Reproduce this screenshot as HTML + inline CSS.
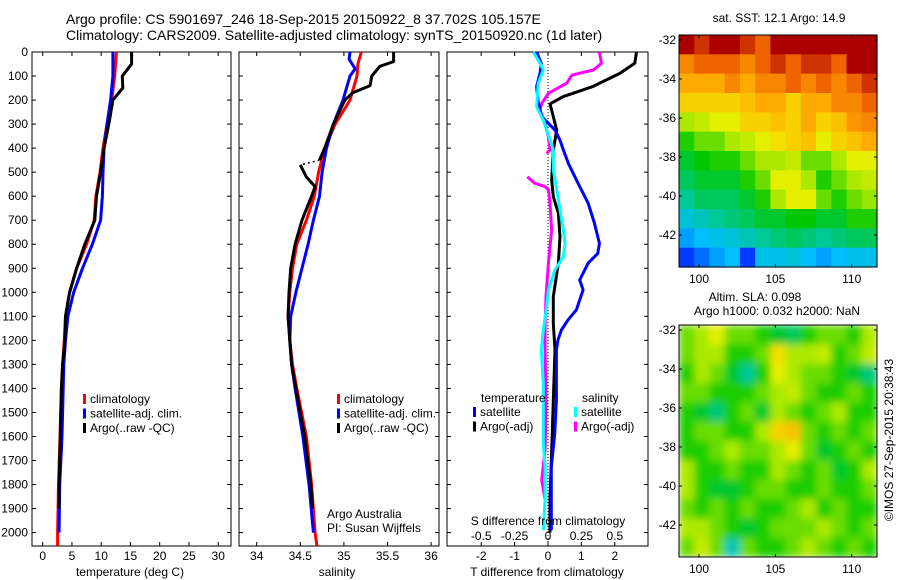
<!DOCTYPE html>
<html><head><meta charset="utf-8"><style>
body{margin:0;background:#fff}
svg{display:block;font-family:"Liberation Sans",sans-serif}
text{font-size:12px;fill:#000}
</style></head><body>
<svg id="s" width="900" height="580" xmlns="http://www.w3.org/2000/svg">
<text x="66" y="24" style="font-size:14px">Argo profile: CS 5901697_246 18-Sep-2015 20150922_8 37.702S 105.157E</text>
<text x="66" y="40" style="font-size:14px">Climatology: CARS2009. Satellite-adjusted climatology: synTS_20150920.nc (1d later)</text>
<g id="g"></g>
</svg>
<script>
// ---- data ----
const tClimDepth=[0,100,200,300,400,500,600,700,800,900,1000,1100,1200,1300,1400,1600,1800,2000,2055];
const tClim=[12.6,12.3,11.8,11.0,10.3,9.8,9.1,8.8,7.5,5.8,4.6,3.9,3.7,3.4,3.2,2.96,2.7,2.55,2.55];
const tSatDepth=[0,100,200,300,400,500,600,700,800,900,1000,1100,1200,1300,1400,1600,1800,2000];
const tSat=[12.0,12.0,11.6,11.0,10.5,10.3,10.2,9.9,8.5,6.8,5.3,4.3,3.9,3.6,3.5,3.3,2.9,2.8];
const tArgoDepth=[0,50,100,150,200,300,400,500,600,700,800,900,1000,1100,1200,1300,1400,1600,1800,1900];
const tArgo=[15.2,15.2,13.6,13.7,12.0,11.3,10.5,9.9,9.2,8.9,7.2,5.8,4.6,3.9,3.8,3.4,3.2,3.0,2.8,2.8];
const sClimDepth=[0,50,100,200,300,400,500,600,700,800,900,1000,1100,1200,1300,1400,1600,1800,2000,2055];
const sClim=[35.2,35.16,35.15,35.07,34.9,34.78,34.71,34.66,34.57,34.46,34.41,34.38,34.36,34.38,34.41,34.46,34.57,34.63,34.67,34.69];
const sSatDepth=[0,30,70,100,200,300,400,500,600,700,800,900,1000,1100,1200,1300,1400,1600,1800,2000];
const sSat=[35.07,35.06,35.13,35.07,34.99,34.88,34.8,34.75,34.72,34.65,34.59,34.52,34.45,34.39,34.38,34.4,34.44,34.53,34.6,34.65];
const sArgoDepth=[0,40,60,100,140,170,200,300,400,450];
const sArgo=[35.57,35.57,35.41,35.32,35.30,35.1,35.01,34.88,34.78,34.72];
const sArgoQcDepth=[450,470];
const sArgoQc=[34.72,34.5];
const sArgo2Depth=[470,520,560,600,700,800,900,1000,1100,1200,1300,1400,1600,1800,1900];
const sArgo2=[34.5,34.57,34.67,34.63,34.52,34.44,34.39,34.37,34.36,34.38,34.4,34.45,34.55,34.62,34.64];
const dTArgoDepth=[0,47,89,143,186,216,269,325,408,533,602,671,768,879,1018,1129,1240,1450,1656,1863,2000];
const dTArgo=[2.65,2.6,2.15,1.35,0.45,0.06,0.16,0.26,0.16,0.11,0.16,0.31,0.36,0.31,0.16,0.16,0.21,0.16,0.11,0.06,0.06];
const dTSatDepth=[0,47,89,143,212,269,325,367,408,464,547,629,712,796,838,879,949,990,1073,1115,1157,1198,1240,1450,1590,1726,1990];
const dTSat=[-0.34,-0.2,-0.24,-0.34,-0.29,-0.19,0.21,0.36,0.46,0.61,0.9,1.2,1.39,1.54,1.49,1.2,0.95,1.05,0.85,0.6,0.4,0.3,0.25,0.25,0.2,0.1,0.1];
const dSSatDepth=[0,47,75,130,228,283,366,408,491,574,657,741,796,852,907,990,1060,1157,1240,1379,1518,1628,1726,1864,1989];
const dSSat=[-0.11,-0.06,-0.035,-0.073,-0.085,-0.035,0.015,0.04,0.04,0.065,0.09,0.115,0.127,0.115,0.052,0.003,-0.01,-0.035,-0.05,-0.035,-0.035,-0.035,-0.022,-0.022,-0.035];
const dSArgoDepth=[0,47,75,96,130,172,214,241,297,352,408,422];
const dSArgo=[0.385,0.40,0.34,0.18,0.14,0.003,-0.047,-0.06,-0.022,0.003,0.015,-0.01];
const dSArgo2Depth=[519,546,560,574,630,741,879,1018,1143,1240,1450,1656,1781,1864];
const dSArgo2=[-0.155,-0.10,-0.022,0.003,0.015,0.027,0.003,-0.015,-0.022,-0.022,-0.015,-0.022,-0.047,-0.022];
const depthTicks=[0,100,200,300,400,500,600,700,800,900,1000,1100,1200,1300,1400,1500,1600,1700,1800,1900,2000];
const tTicks=[0,5,10,15,20,25,30];
const sTicks=[34,34.5,35,35.5,36];
const dTTicks=[-2,-1,0,1,2];
const dSTicks=[-0.5,-0.25,0,0.25,0.5];
const dSTickLabels=["-0.5","-0.25","0","0.25","0.5"];
const latTicks=[-32,-34,-36,-38,-40,-42];
const lonTicks=[100,105,110];
const sstGrid=[
[.95,.9,.95,.95,.9,.85,.95,.95,.95,.95,.95,.95,.95],
[.8,.85,.85,.85,.8,.85,.9,.85,.9,.9,.85,.95,.95],
[.75,.75,.75,.8,.75,.8,.8,.85,.8,.85,.8,.85,.9],
[.7,.7,.7,.7,.72,.75,.75,.7,.75,.75,.8,.8,.85],
[.6,.62,.65,.65,.7,.7,.72,.7,.75,.7,.72,.78,.8],
[.5,.55,.55,.6,.62,.65,.68,.7,.72,.65,.7,.72,.75],
[.45,.48,.5,.5,.55,.6,.6,.62,.55,.55,.6,.65,.65],
[.42,.45,.45,.45,.5,.55,.65,.65,.6,.5,.55,.6,.62],
[.38,.42,.42,.42,.45,.5,.6,.65,.65,.55,.5,.55,.58],
[.32,.35,.38,.4,.42,.45,.45,.48,.48,.45,.45,.5,.5],
[.25,.28,.3,.32,.35,.38,.4,.42,.4,.38,.4,.42,.42],
[.15,.2,.25,.28,.15,.3,.3,.32,.28,.25,.28,.3,.3]];
const slaGrid=[
[.55,.6,.65,.55,.55,.5,.45,.42,.5,.55,.55,.5,.6],
[.55,.6,.6,.5,.5,.55,.68,.6,.6,.62,.5,.55,.62],
[.5,.6,.55,.45,.38,.5,.65,.6,.55,.55,.5,.45,.4],
[.55,.55,.5,.5,.5,.55,.6,.62,.55,.5,.5,.55,.5],
[.5,.45,.4,.5,.55,.45,.6,.55,.5,.55,.6,.5,.5],
[.5,.55,.55,.5,.5,.6,.7,.72,.55,.5,.55,.5,.55],
[.5,.5,.55,.6,.55,.55,.6,.65,.55,.45,.5,.55,.5],
[.6,.5,.5,.55,.5,.5,.6,.55,.5,.55,.45,.5,.6],
[.6,.5,.45,.45,.5,.55,.55,.5,.5,.55,.5,.5,.55],
[.55,.5,.55,.5,.55,.5,.5,.55,.6,.5,.55,.5,.5],
[.6,.6,.55,.5,.45,.5,.55,.55,.55,.6,.55,.5,.55],
[.55,.62,.55,.35,.55,.5,.5,.55,.6,.55,.5,.55,.5]];
// ---- axes ----
const NS="http://www.w3.org/2000/svg";
const G=document.getElementById('g');
function mk(tag,attrs,parent){const e=document.createElementNS(NS,tag);for(const k in attrs)e.setAttribute(k,attrs[k]);(parent||G).appendChild(e);return e;}
const yD=d=>52+d*0.2403;
const xT=v=>42.7+v*5.85;
const xS=v=>256.7+(v-34)*87.2;
const xDT=v=>548+v*33.4;
const xDS=v=>548+v*133.6;
const PB=546;
function frame(x0,x1,name){
  const r=mk('rect',{x:x0,y:52,width:x1-x0,height:PB-52,fill:'none',stroke:'#000','stroke-width':1});
  
  
  depthTicks.forEach(d=>{mk('line',{x1:x0,x2:x0+4,y1:yD(d),y2:yD(d),stroke:'#000'});mk('line',{x1:x1,x2:x1-4,y1:yD(d),y2:yD(d),stroke:'#000'});});
}
frame(32,231,'temperature-panel');frame(239,439,'salinity-panel');frame(447,648,'difference-panel');
depthTicks.forEach(d=>{const t=mk('text',{x:28,y:yD(d)+4,'text-anchor':'end'});t.textContent=d;

});
function xticks(vals,fx,labels,y,top){vals.forEach((v,i)=>{const x=fx(v);
 mk('line',{x1:x,x2:x,y1:PB,y2:PB-4,stroke:'#000'});if(top)mk('line',{x1:x,x2:x,y1:52,y2:56,stroke:'#000'});
 const t=mk('text',{x:x,y:y,'text-anchor':'middle'});t.textContent=labels?labels[i]:v;
 
 });}
xticks(tTicks,xT,null,560,true);xticks(sTicks,xS,null,560,true);xticks(dTTicks,xDT,null,560,true);
dSTicks.forEach((v,i)=>{const t=mk('text',{x:xDS(v),y:540,'text-anchor':'middle'});t.textContent=dSTickLabels[i];

});
mk('line',{x1:548,x2:548,y1:52,y2:PB,stroke:'#000','stroke-dasharray':'1,2'});
function line(xs,ds,fx,col,name,dash){const p=xs.map((v,i)=>fx(v).toFixed(1)+','+yD(ds[i]).toFixed(1)).join(' ');
 const e=mk('polyline',{points:p,fill:'none',stroke:col,'stroke-width':dash?1.5:3,'stroke-linejoin':'round'});if(dash)e.setAttribute('stroke-dasharray','2,3');
 
 }
line(tClim,tClimDepth,xT,'#f00','temp-climatology-line');line(tSat,tSatDepth,xT,'#00f','temp-satellite-line');line(tArgo,tArgoDepth,xT,'#000','temp-argo-line');
line(sClim,sClimDepth,xS,'#f00','sal-climatology-line');line(sSat,sSatDepth,xS,'#00f','sal-satellite-line');line(sArgo,sArgoDepth,xS,'#000','sal-argo-line');
line(sArgoQc,sArgoQcDepth,xS,'#000','sal-argo-qc-line',true);line(sArgo2,sArgo2Depth,xS,'#000','sal-argo-line-deep');
line(dSArgo,dSArgoDepth,xDS,'#f0f','sal-diff-argo-line');line(dSArgo2,dSArgo2Depth,xDS,'#f0f','sal-diff-argo-line-deep');
line(dTArgo,dTArgoDepth,xDT,'#000','temp-diff-argo-line');line(dTSat,dTSatDepth,xDT,'#00f','temp-diff-satellite-line');
line(dSSat,dSSatDepth,xDS,'#0ff','sal-diff-satellite-line');
function txt(x,y,s,name,extra){const t=mk('text',Object.assign({x:x,y:y},extra||{}));t.textContent=s;
 
 return t;}
function legend(x,y,items){items.forEach((it,i)=>{mk('rect',{x:x,y:y+i*14.5-9,width:3,height:10,fill:it[0]});txt(x+7,y+i*14.5,it[1],'legend-entry');});}
legend(83,403,[['#f00','climatology'],['#00f','satellite-adj. clim.'],['#000','Argo(..raw -QC)']]);
legend(337,403,[['#f00','climatology'],['#00f','satellite-adj. clim.'],['#000','Argo(..raw -QC)']]);
txt(481,402,'temperature','legend-title-temperature');txt(582,402,'salinity','legend-title-salinity');
legend(473,416,[['#00f','satellite'],['#000','Argo(-adj)']]);legend(574,416,[['#0ff','satellite'],['#f0f','Argo(-adj)']]);
txt(327,518,'Argo Australia','credit-line-1');txt(327,532,'PI: Susan Wijffels','credit-line-2');
txt(548,525,'S difference from climatology','s-diff-axis-title',{'text-anchor':'middle'});
txt(130,576,'temperature (deg C)','temperature-axis-title',{'text-anchor':'middle'});
txt(337,576,'salinity','salinity-axis-title',{'text-anchor':'middle'});
txt(547,576,'T difference from climatology','t-diff-axis-title',{'text-anchor':'middle'});
// ---- maps ----
const cmapStops=[[0,[0,0,130]],[0.15,[0,60,255]],[0.28,[0,190,255]],[0.38,[0,200,150]],[0.48,[0,200,0]],[0.58,[150,230,0]],[0.66,[240,240,0]],[0.75,[255,170,0]],[0.85,[240,100,0]],[0.95,[170,0,0]],[1,[150,0,0]]];
function cmap(v){v=Math.max(0,Math.min(1,v));for(let i=1;i<cmapStops.length;i++){const a=cmapStops[i-1],b=cmapStops[i];if(v<=b[0]){const f=(v-a[0])/(b[0]-a[0]);return 'rgb('+a[1].map((c,k)=>Math.round(c+(b[1][k]-c)*f)).join(',')+')';}}return 'rgb(150,0,0)';}
const mx=v=>699+(v-100)*15.27;
function map(y0,grid,name,blur){
 const x0=679,w=198,h=232;const g=mk('g',{});
 
 
 const cw=w/grid[0].length,ch=h/grid.length;
 const inner=mk('g',blur?{filter:'url(#bl)','clip-path':'url(#c'+y0+')'}:{},g);
 const cp=mk('clipPath',{id:'c'+y0},g);mk('rect',{x:x0,y:y0,width:w,height:h},cp);
 grid.forEach((row,r)=>row.forEach((v,c)=>{const e=mk('rect',{x:x0+c*cw,y:y0+r*ch,width:cw+0.6,height:ch+0.6,fill:cmap(v)},inner);
   
   }));
 mk('rect',{x:x0,y:y0,width:w,height:h,fill:'none',stroke:'#000'});
 const my=v=>y0+5+(-32-v)*19.5;
 latTicks.forEach(v=>{mk('line',{x1:x0,x2:x0+3,y1:my(v),y2:my(v),stroke:'#000'});mk('line',{x1:x0+w,x2:x0+w-3,y1:my(v),y2:my(v),stroke:'#000'});
   txt(676,my(v)+4,String(v),'lat-tick-label',{'text-anchor':'end'});});
 lonTicks.forEach(v=>{mk('line',{x1:mx(v),x2:mx(v),y1:y0+h,y2:y0+h-3,stroke:'#000'});mk('line',{x1:mx(v),x2:mx(v),y1:y0,y2:y0+3,stroke:'#000'});
   txt(mx(v),y0+h+16,String(v),'lon-tick-label',{'text-anchor':'middle'});});
}
const defs=mk('defs',{});const f=mk('filter',{id:'bl',x:'0',y:'0',width:'1',height:'1'},defs);mk('feGaussianBlur',{stdDeviation:4},f);
map(35,sstGrid,'sst-map',false);
map(325,slaGrid,'sla-map',true);
txt(779,22,'sat. SST: 12.1 Argo: 14.9','sst-map-title',{'text-anchor':'middle'});
txt(755,301,'Altim. SLA: 0.098','sla-map-title',{'text-anchor':'middle'});
txt(777,315,'Argo h1000: 0.032 h2000: NaN','sla-map-subtitle',{'text-anchor':'middle'});
txt(0,0,'©IMOS 27-Sep-2015 20:38:43','imos-timestamp',{transform:'translate(893,440) rotate(-90)','text-anchor':'middle'});
</script>
</body></html>
